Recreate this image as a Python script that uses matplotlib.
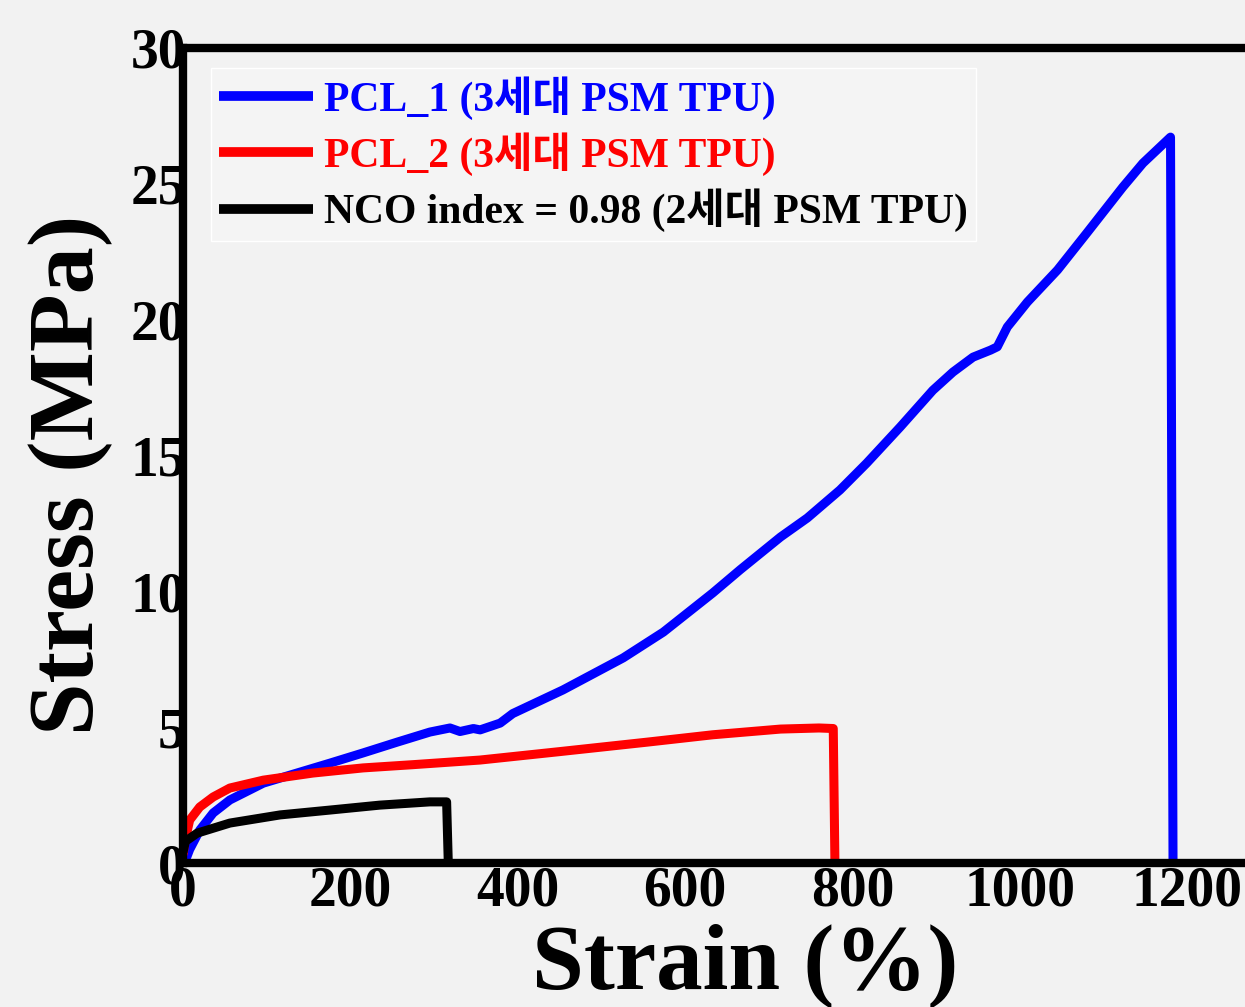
import matplotlib
matplotlib.use("Agg")
import matplotlib.pyplot as plt

# PCL_1 (3세대 PSM TPU)
pcl1_strain = [0, 3, 8, 20, 36, 56, 96, 136, 176, 215, 256, 295, 319, 331, 347,
               355, 379, 394, 454, 526, 574, 633, 666, 714, 746, 785, 817, 857,
               896, 920, 944, 965, 973, 985, 1009, 1045, 1080, 1123, 1147, 1180, 1183]
pcl1_stress = [0, 0.1, 0.5, 1.21, 1.84, 2.32, 2.94, 3.31, 3.68, 4.05, 4.45, 4.82, 4.97,
               4.84, 4.95, 4.9, 5.15, 5.5, 6.37, 7.55, 8.5, 9.94, 10.8, 12.0, 12.7,
               13.73, 14.72, 16.05, 17.4, 18.07, 18.62, 18.88, 19.0, 19.73, 20.65,
               21.83, 23.19, 24.88, 25.76, 26.72, 0]

# PCL_2 (3세대 PSM TPU)
pcl2_strain = [0, 3, 8, 20, 36, 56, 96, 155, 215, 275, 355, 450, 555, 633, 714, 760, 777, 779]
pcl2_stress = [0.3, 0.9, 1.58, 2.06, 2.43, 2.76, 3.05, 3.31, 3.5, 3.62, 3.79, 4.1, 4.45,
               4.72, 4.93, 4.97, 4.95, 0]

# NCO index = 0.98 (2세대 PSM TPU)
nco_strain = [0, 3, 17, 56, 116, 176, 235, 295, 315, 317]
nco_stress = [0.4, 0.8, 1.1, 1.47, 1.77, 1.95, 2.13, 2.25, 2.25, 0]

labels = ["PCL_1 (3세대 PSM TPU)", "PCL_2 (3세대 PSM TPU)", "NCO index = 0.98 (2세대 PSM TPU)"]
colors = ["#0000ff", "#ff0000", "#000000"]

xticks = [0, 200, 400, 600, 800, 1000, 1200]
yticks = [0, 5, 10, 15, 20, 25, 30]

fonts = ["Liberation Serif", "Noto Sans CJK KR"]
plt.rcParams["font.family"] = fonts
plt.rcParams["font.weight"] = "bold"

bg = "#f2f2f2"
fig = plt.figure(figsize=(12.45, 10.07), dpi=100, facecolor=bg)
ax = fig.add_axes([183 / 1245, 1 - 863 / 1007, 1 - 183 / 1245, (863 - 48) / 1007])
ax.set_facecolor(bg)

for xs, ys, c, lab in zip([pcl1_strain, pcl2_strain, nco_strain],
                          [pcl1_stress, pcl2_stress, nco_stress], colors, labels):
    ax.plot(xs, ys, color=c, lw=6.5, label=lab, solid_joinstyle="round",
            solid_capstyle="butt", zorder=3)

ax.set_xlim(0, 1269)
ax.set_ylim(0, 30)
ax.set_xticks(xticks)
ax.set_yticks(yticks)
ax.tick_params(axis="both", length=0, labelsize=40)
ax.tick_params(axis="y", pad=-2)
ax.tick_params(axis="x", pad=2)
for t in ax.get_xticklabels() + ax.get_yticklabels():
    t.set_fontweight("bold")

for s in ["left", "bottom", "top"]:
    ax.spines[s].set_linewidth(6)
    ax.spines[s].set_zorder(4)
ax.spines["right"].set_visible(False)

# axis titles placed where the reference has them
ax.set_xlabel("Strain (%)", fontsize=67, fontweight="bold", va="center")
ax.xaxis.set_label_coords((745 - 183) / 1062, (863 - 966) / 815)
ax.set_ylabel("Stress (MPa)", fontsize=68, fontweight="bold", va="center")
ax.yaxis.set_label_coords((71 - 183) / 1062, (863 - 475) / 815)

leg = ax.legend(loc="upper left", bbox_to_anchor=(28 / 1062, (863 - 68) / 815),
                borderaxespad=0, fontsize=30, frameon=True, fancybox=False,
                facecolor="#f4f4f4", edgecolor="white", handlelength=2.25,
                handletextpad=0.26, labelspacing=0.3, borderpad=0.2, framealpha=1)
leg.get_frame().set_linewidth(1)
for t, c in zip(leg.get_texts(), colors):
    t.set_color(c)
    t.set_fontweight("bold")
for h in leg.get_lines():
    h.set_linewidth(7)

fig.savefig("out.png", dpi=100, facecolor=bg)
